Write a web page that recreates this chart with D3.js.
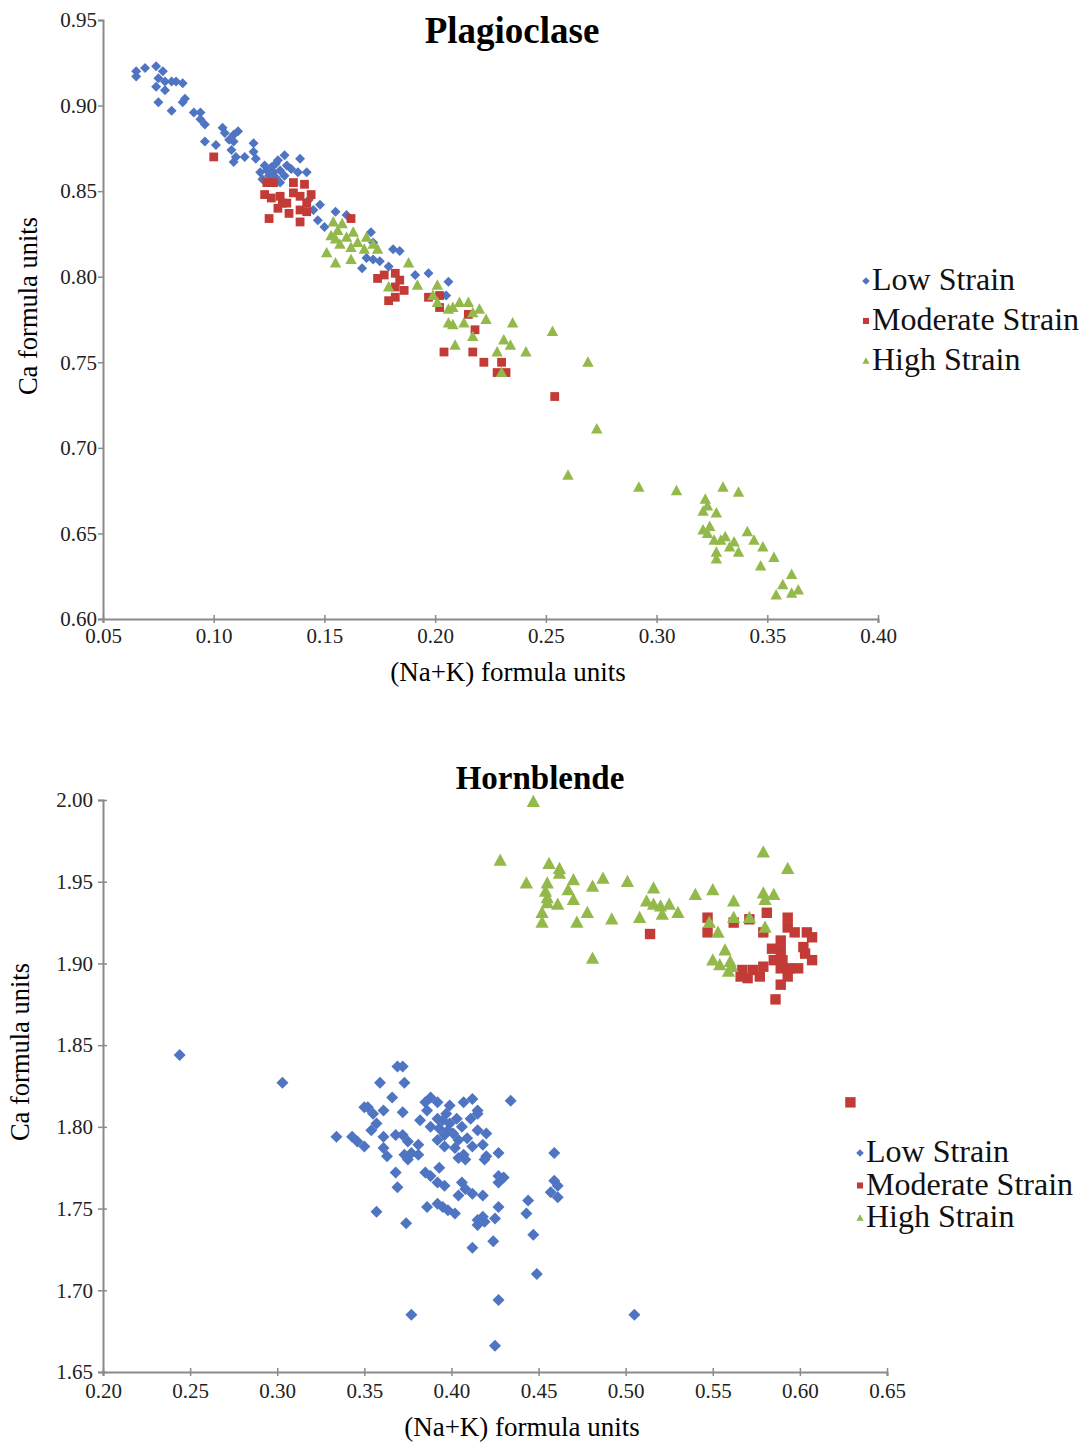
<!DOCTYPE html>
<html>
<head>
<meta charset="utf-8">
<script src="https://cdn.jsdelivr.net/npm/d3@7"></script>
<style>
  body { margin: 0; background: #fff; }
  svg { display: block; }
</style>
</head>
<body>
<svg id="chart" width="1090" height="1442"></svg>
<script>
// --- data ---
const seriesNames = ['Low Strain', 'Moderate Strain', 'High Strain'];

const plagXTicks = [0.05, 0.10, 0.15, 0.20, 0.25, 0.30, 0.35, 0.40];
const plagYTicks = [0.60, 0.65, 0.70, 0.75, 0.80, 0.85, 0.90, 0.95];
const hbXTicks = [0.20, 0.25, 0.30, 0.35, 0.40, 0.45, 0.50, 0.55, 0.60, 0.65];
const hbYTicks = [1.65, 1.70, 1.75, 1.80, 1.85, 1.90, 1.95, 2.00];

// plagioclase: [Na+K, Ca]
const plagLow = [
  [0.065, 0.920], [0.065, 0.917], [0.069, 0.922], [0.074, 0.923], [0.077, 0.920],
  [0.075, 0.916], [0.074, 0.911], [0.078, 0.914], [0.081, 0.914], [0.083, 0.914],
  [0.086, 0.913], [0.078, 0.909], [0.075, 0.902], [0.081, 0.897], [0.086, 0.902],
  [0.087, 0.904], [0.091, 0.896], [0.094, 0.896], [0.094, 0.892], [0.096, 0.889],
  [0.104, 0.887], [0.105, 0.884], [0.109, 0.883], [0.111, 0.885], [0.107, 0.880],
  [0.096, 0.879], [0.101, 0.877], [0.109, 0.879], [0.118, 0.878], [0.108, 0.874],
  [0.110, 0.870], [0.114, 0.870], [0.109, 0.867], [0.118, 0.873], [0.119, 0.869],
  [0.132, 0.871], [0.139, 0.869], [0.123, 0.865], [0.126, 0.864], [0.128, 0.866],
  [0.130, 0.862], [0.132, 0.859], [0.125, 0.859], [0.128, 0.858], [0.130, 0.855],
  [0.133, 0.865], [0.124, 0.862], [0.127, 0.861], [0.138, 0.861], [0.142, 0.861],
  [0.121, 0.861], [0.129, 0.868], [0.135, 0.863], [0.126, 0.856], [0.122, 0.857],
  [0.145, 0.839], [0.147, 0.833], [0.150, 0.829], [0.155, 0.838], [0.160, 0.836],
  [0.171, 0.826], [0.172, 0.820], [0.169, 0.811], [0.172, 0.810], [0.167, 0.805],
  [0.175, 0.809], [0.179, 0.806], [0.181, 0.816], [0.184, 0.815], [0.191, 0.801],
  [0.197, 0.802], [0.206, 0.797], [0.205, 0.789], [0.143, 0.845], [0.148, 0.842]
];
const plagMod = [
  [0.100, 0.870], [0.124, 0.855], [0.127, 0.855], [0.136, 0.855], [0.141, 0.854],
  [0.144, 0.848], [0.123, 0.848], [0.126, 0.846], [0.130, 0.847], [0.133, 0.843],
  [0.136, 0.849], [0.139, 0.847], [0.142, 0.843], [0.129, 0.840], [0.134, 0.837],
  [0.139, 0.839], [0.142, 0.838], [0.125, 0.834], [0.139, 0.832], [0.131, 0.843],
  [0.162, 0.834], [0.174, 0.799], [0.177, 0.801], [0.182, 0.802], [0.184, 0.798],
  [0.182, 0.794], [0.186, 0.792], [0.179, 0.786], [0.182, 0.788], [0.197, 0.788],
  [0.202, 0.789], [0.202, 0.782], [0.215, 0.778], [0.218, 0.769], [0.204, 0.756],
  [0.217, 0.756], [0.222, 0.750], [0.230, 0.750], [0.228, 0.744], [0.232, 0.744],
  [0.254, 0.730]
];
const plagHigh = [
  [0.154, 0.832], [0.158, 0.831], [0.153, 0.824], [0.156, 0.827], [0.160, 0.823],
  [0.163, 0.826], [0.165, 0.820], [0.169, 0.823], [0.172, 0.819], [0.174, 0.816],
  [0.157, 0.819], [0.162, 0.817], [0.168, 0.816], [0.155, 0.822], [0.151, 0.814],
  [0.155, 0.808], [0.162, 0.810], [0.188, 0.808], [0.179, 0.794], [0.192, 0.795],
  [0.201, 0.795], [0.199, 0.789], [0.201, 0.785], [0.206, 0.781], [0.208, 0.782],
  [0.211, 0.785], [0.215, 0.785], [0.206, 0.773], [0.208, 0.772], [0.213, 0.773],
  [0.217, 0.779], [0.220, 0.781], [0.223, 0.775], [0.217, 0.765], [0.209, 0.760],
  [0.231, 0.763], [0.234, 0.760], [0.235, 0.773], [0.241, 0.756], [0.228, 0.756],
  [0.230, 0.744], [0.253, 0.768], [0.269, 0.750], [0.273, 0.711], [0.260, 0.684],
  [0.292, 0.677], [0.309, 0.675], [0.330, 0.677], [0.337, 0.674], [0.322, 0.670],
  [0.321, 0.663], [0.323, 0.666], [0.327, 0.662], [0.321, 0.652], [0.323, 0.650],
  [0.324, 0.654], [0.326, 0.646], [0.329, 0.646], [0.331, 0.648], [0.335, 0.645],
  [0.333, 0.642], [0.337, 0.639], [0.327, 0.639], [0.327, 0.635], [0.341, 0.651],
  [0.344, 0.646], [0.348, 0.642], [0.353, 0.636], [0.347, 0.631], [0.361, 0.626],
  [0.357, 0.620], [0.361, 0.615], [0.364, 0.617], [0.354, 0.614]
];

// hornblende: [Na+K, Ca]
const hbLow = [
  [0.244, 1.844], [0.303, 1.827], [0.359, 1.827], [0.366, 1.818], [0.369, 1.837],
  [0.334, 1.794], [0.343, 1.794], [0.346, 1.791], [0.350, 1.788], [0.352, 1.812],
  [0.355, 1.808], [0.361, 1.810], [0.357, 1.802], [0.354, 1.798], [0.361, 1.794],
  [0.368, 1.795], [0.361, 1.787], [0.363, 1.782], [0.368, 1.772], [0.369, 1.763],
  [0.357, 1.748], [0.372, 1.837], [0.373, 1.827], [0.350, 1.812], [0.372, 1.809],
  [0.374, 1.741], [0.372, 1.795], [0.375, 1.791], [0.373, 1.783], [0.377, 1.784],
  [0.381, 1.783], [0.375, 1.780], [0.381, 1.789], [0.382, 1.804], [0.385, 1.815],
  [0.388, 1.818], [0.392, 1.815], [0.386, 1.810], [0.392, 1.805], [0.388, 1.800],
  [0.393, 1.799], [0.396, 1.795], [0.392, 1.792], [0.399, 1.813], [0.399, 1.802],
  [0.401, 1.796], [0.404, 1.792], [0.396, 1.788], [0.402, 1.787], [0.406, 1.800],
  [0.407, 1.815], [0.412, 1.817], [0.415, 1.810], [0.415, 1.808], [0.411, 1.805],
  [0.415, 1.798], [0.420, 1.796], [0.418, 1.789], [0.412, 1.788], [0.407, 1.783],
  [0.408, 1.780], [0.404, 1.781], [0.419, 1.780], [0.420, 1.782], [0.427, 1.784],
  [0.434, 1.816], [0.393, 1.775], [0.385, 1.772], [0.388, 1.770], [0.392, 1.766],
  [0.396, 1.764], [0.406, 1.766], [0.408, 1.762], [0.404, 1.758], [0.412, 1.759],
  [0.418, 1.758], [0.427, 1.770], [0.430, 1.769], [0.427, 1.766], [0.427, 1.751],
  [0.425, 1.744], [0.415, 1.743], [0.418, 1.745], [0.415, 1.740], [0.419, 1.742],
  [0.386, 1.751], [0.392, 1.753], [0.395, 1.751], [0.398, 1.749], [0.402, 1.747],
  [0.412, 1.726], [0.424, 1.730], [0.459, 1.784], [0.459, 1.767], [0.461, 1.764],
  [0.457, 1.760], [0.461, 1.757], [0.444, 1.755], [0.443, 1.747], [0.447, 1.734],
  [0.449, 1.710], [0.427, 1.694], [0.377, 1.685], [0.425, 1.666], [0.505, 1.685],
  [0.397, 1.808], [0.403, 1.805], [0.398, 1.798], [0.409, 1.793], [0.395, 1.804]
];
const hbMod = [
  [0.514, 1.918], [0.547, 1.928], [0.547, 1.919], [0.562, 1.925], [0.571, 1.927],
  [0.581, 1.931], [0.593, 1.928], [0.579, 1.919], [0.593, 1.922], [0.597, 1.919],
  [0.604, 1.919], [0.607, 1.916], [0.589, 1.914], [0.584, 1.909], [0.589, 1.908],
  [0.602, 1.910], [0.603, 1.906], [0.607, 1.902], [0.590, 1.902], [0.585, 1.902],
  [0.579, 1.898], [0.573, 1.896], [0.567, 1.896], [0.570, 1.891], [0.577, 1.892],
  [0.589, 1.897], [0.594, 1.897], [0.599, 1.897], [0.593, 1.892], [0.589, 1.887],
  [0.586, 1.878], [0.566, 1.892], [0.629, 1.815]
];
const hbHigh = [
  [0.447, 1.999], [0.428, 1.963], [0.456, 1.961], [0.462, 1.958], [0.462, 1.955],
  [0.443, 1.949], [0.455, 1.949], [0.454, 1.944], [0.455, 1.940], [0.455, 1.937],
  [0.461, 1.936], [0.452, 1.931], [0.452, 1.925], [0.470, 1.951], [0.467, 1.945],
  [0.470, 1.939], [0.481, 1.947], [0.487, 1.952], [0.478, 1.931], [0.472, 1.925],
  [0.492, 1.927], [0.501, 1.950], [0.516, 1.946], [0.512, 1.938], [0.516, 1.936],
  [0.520, 1.935], [0.521, 1.930], [0.525, 1.936], [0.530, 1.931], [0.508, 1.928],
  [0.481, 1.903], [0.540, 1.942], [0.550, 1.945], [0.562, 1.938], [0.579, 1.968],
  [0.593, 1.958], [0.579, 1.943], [0.585, 1.942], [0.580, 1.939], [0.562, 1.928],
  [0.571, 1.928], [0.580, 1.922], [0.548, 1.925], [0.553, 1.919], [0.557, 1.908],
  [0.550, 1.902], [0.554, 1.899], [0.560, 1.901], [0.559, 1.895], [0.561, 1.898]
];

const colors = ['#4f75c2', '#c33b37', '#94b94b'];
const font = '"Liberation Serif", "Times New Roman", serif';

const svg = d3.select('#chart');

// marker path for a series index: 0 diamond, 1 square, 2 triangle
const markerPath = (i, s) => {
  if (i === 0) return `M0,${-s}L${s},0L0,${s}L${-s},0Z`;
  if (i === 1) return `M${-s * 0.8},${-s * 0.8}H${s * 0.8}V${s * 0.8}H${-s * 0.8}Z`;
  return `M0,${-s}L${s * 0.95},${s * 0.75}H${-s * 0.95}Z`;
};

const drawPanel = cfg => {
  const x = d3.scaleLinear().domain(cfg.xDomain).range(cfg.xRange);
  const y = d3.scaleLinear().domain(cfg.yDomain).range(cfg.yRange);
  const g = svg.append('g');

  // title
  g.append('text')
    .attr('x', cfg.title.x).attr('y', cfg.title.y)
    .attr('text-anchor', 'middle')
    .attr('font-family', font).attr('font-weight', 'bold')
    .attr('font-size', cfg.title.size)
    .text(cfg.title.text);

  // x axis
  const xAxis = g.append('g')
    .attr('transform', `translate(0,${cfg.yRange[0]})`)
    .call(d3.axisBottom(x).tickValues(cfg.xTicks).tickFormat(d3.format('.2f'))
      .tickSize(4).tickPadding(cfg.xPad));
  xAxis.selectAll('.tick line').attr('y1', -4);

  // y axis
  const yAxis = g.append('g')
    .attr('transform', `translate(${cfg.xRange[0]},0)`)
    .call(d3.axisLeft(y).tickValues(cfg.yTicks).tickFormat(d3.format('.2f'))
      .tickSize(5).tickPadding(cfg.yPad));
  yAxis.selectAll('.tick line').attr('x1', cfg.yTickIn);

  [xAxis, yAxis].forEach(a => {
    a.select('.domain').attr('stroke', '#8a8a8a').attr('stroke-width', 2);
    a.selectAll('.tick line').attr('stroke', '#8a8a8a').attr('stroke-width', 1.5);
    a.selectAll('.tick text')
      .attr('font-family', font).attr('font-size', 21).attr('fill', '#222');
  });

  // axis titles
  g.append('text')
    .attr('x', cfg.xLabel.x).attr('y', cfg.xLabel.y)
    .attr('text-anchor', 'middle')
    .attr('font-family', font).attr('font-size', 27)
    .text('(Na+K) formula units');
  g.append('text')
    .attr('transform', `translate(${cfg.yLabel.x},${cfg.yLabel.y}) rotate(-90)`)
    .attr('text-anchor', 'middle')
    .attr('font-family', font).attr('font-size', 26.5)
    .text('Ca formula units');

  // points
  cfg.series.forEach((pts, i) => {
    g.append('g')
      .selectAll('path')
      .data(pts)
      .join('path')
      .attr('transform', d => `translate(${x(d[0])},${y(d[1])})`)
      .attr('d', markerPath(i, cfg.markerSize[i]))
      .attr('fill', colors[i]);
  });

  // legend
  const lg = g.append('g')
    .attr('transform', `translate(${cfg.legend.x},${cfg.legend.y})`);
  seriesNames.forEach((name, i) => {
    const row = lg.append('g').attr('transform', `translate(0,${i * cfg.legend.step})`);
    row.append('path')
      .attr('transform', 'translate(0,-9)')
      .attr('d', markerPath(i, 3.8))
      .attr('fill', colors[i]);
    row.append('text')
      .attr('x', 6).attr('y', 0)
      .attr('font-family', font).attr('font-size', 32)
      .attr('fill', '#111')
      .text(name);
  });
};

drawPanel({
  xDomain: [0.05, 0.40], xRange: [103, 878],
  yDomain: [0.60, 0.95], yRange: [619, 20],
  xTicks: plagXTicks, yTicks: plagYTicks,
  xPad: 5, yPad: 1, yTickIn: 0,
  series: [plagLow, plagMod, plagHigh],
  markerSize: [5, 5.5, 6],
  title: { text: 'Plagioclase', x: 512, y: 43, size: 37 },
  xLabel: { x: 508, y: 681 },
  yLabel: { x: 37, y: 306 },
  legend: { x: 866, y: 290, step: 40 }
});

drawPanel({
  xDomain: [0.20, 0.65], xRange: [103, 887],
  yDomain: [1.65, 2.00], yRange: [1372, 800],
  xTicks: hbXTicks, yTicks: hbYTicks,
  xPad: 7, yPad: 5, yTickIn: 4,
  series: [hbLow, hbMod, hbHigh],
  markerSize: [6, 6.5, 7],
  title: { text: 'Hornblende', x: 540, y: 789, size: 33 },
  xLabel: { x: 522, y: 1436 },
  yLabel: { x: 29, y: 1052 },
  legend: { x: 860, y: 1162, step: 32.5 }
});
</script>
</body>
</html>
